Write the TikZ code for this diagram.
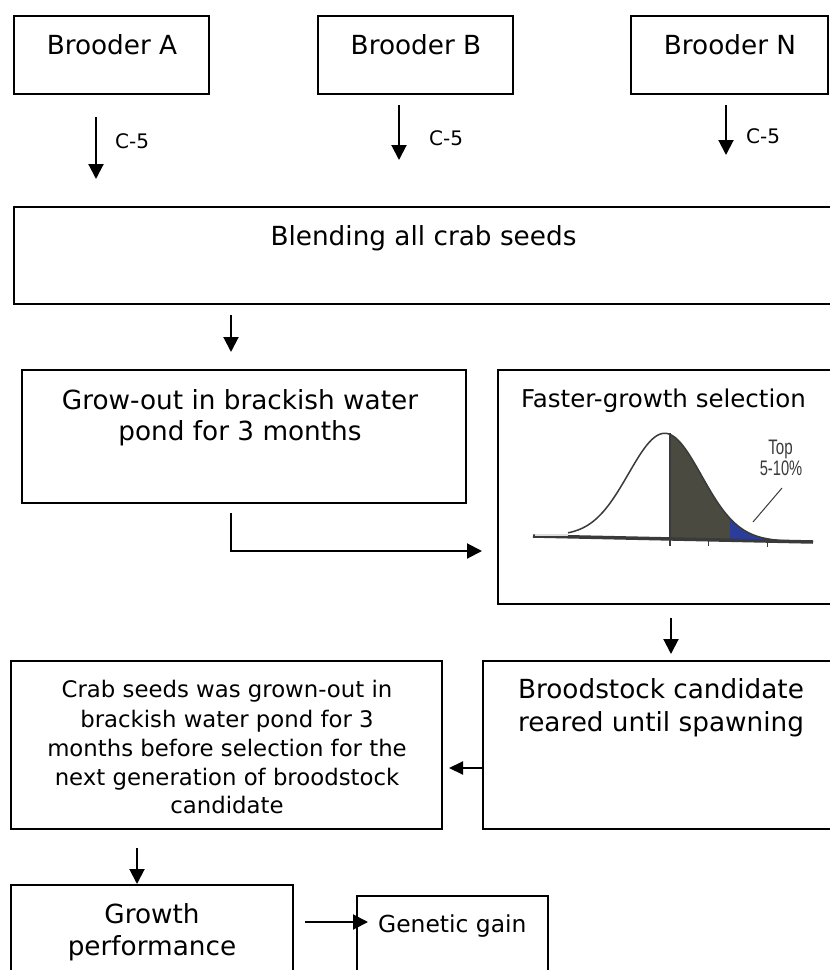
\documentclass[tikz,border=0pt]{standalone}
\usepackage{fontspec}
\setmainfont{DejaVu Sans}
\newfontfamily\narrowfam{Liberation Sans}
\usetikzlibrary{arrows.meta}
\definecolor{darkfill}{HTML}{4A4A40}
\definecolor{bluefill}{HTML}{2B3D9B}
\definecolor{curvecol}{HTML}{3A3A3A}
\newcommand\szbrood{\fontsize{26.3}{30}\selectfont}
\newcommand\szlab{\fontsize{20}{24}\selectfont}
\newcommand\szfast{\fontsize{24.5}{29}\selectfont}
\newcommand\szcrab{\fontsize{22.8}{28}\selectfont}
\newcommand\szgen{\fontsize{23.4}{28}\selectfont}
\newcommand\sztop{\fontsize{21}{24}\selectfont}
\begin{document}
\begin{tikzpicture}[x=1pt,y=-1pt,
  box/.style={draw,line width=2pt,inner sep=0pt,outer sep=0pt,anchor=north west},
  txt/.style={inner sep=0pt,anchor=base},
  arr/.style={line width=2pt,-{Triangle[length=15pt,width=15pt]}},
  arrs/.style={line width=2pt,-{Triangle[length=14pt,width=13pt]}},
  declare function={gb(\x)=exp(-0.5*((\x-665)/36.5)^2); bl(\x)=535+0.025*(\x-533);}
]
\useasboundingbox (0,0) rectangle (830,970);
\clip (0,0) rectangle (830,970);
\fill[white] (0,0) rectangle (830,970);

% boxes
\node[box,minimum width=195pt,minimum height=78pt] (bA) at (14,16) {};
\node[box,minimum width=195pt,minimum height=78pt] (bB) at (318,16) {};
\node[box,minimum width=197pt,minimum height=78pt] (bN) at (631,16) {};
\node[box,minimum width=830pt,minimum height=97pt] (blend) at (14,207) {};
\node[box,minimum width=444pt,minimum height=133pt] (grow) at (22,370) {};
\node[box,minimum width=350pt,minimum height=234pt] (fast) at (498,370) {};
\node[box,minimum width=431pt,minimum height=168pt] (crab) at (11,661) {};
\node[box,minimum width=360pt,minimum height=168pt] (brood) at (483,661) {};
\node[box,minimum width=282pt,minimum height=100pt] (growth) at (11,885) {};
\node[box,minimum width=191pt,minimum height=90pt] (gen) at (357,896) {};

% texts
\node[txt,font=\szbrood] (tA) at (112,54) {Brooder A};
\node[txt,font=\szbrood] (tB) at (416,54) {Brooder B};
\node[txt,font=\szbrood] (tN) at (730,54) {Brooder N};
\node[txt,font=\szlab,anchor=base west] (cA) at (115,148) {C-5};
\node[txt,font=\szlab,anchor=base west] (cB) at (429,145) {C-5};
\node[txt,font=\szlab,anchor=base west] (cN) at (746,143) {C-5};
\node[txt,font=\szbrood] (tblend) at (423.5,245) {Blending all crab seeds};
\node[txt,font=\szbrood] (tg1) at (240,409) {Grow-out in brackish water};
\node[txt,font=\szbrood] (tg2) at (240,440) {pond for 3 months};
\node[txt,font=\szfast] (tfast) at (663.5,407) {Faster-growth selection};
\node[txt,font=\szbrood] (tb1) at (661,698) {Broodstock candidate};
\node[txt,font=\szbrood] (tb2) at (661,731) {reared until spawning};
\node[txt,font=\szcrab] (tc1) at (227,697) {Crab seeds was grown-out in};
\node[txt,font=\szcrab] (tc2) at (227,727) {brackish water pond for 3};
\node[txt,font=\szcrab] (tc3) at (227,756) {months before selection for the};
\node[txt,font=\szcrab] (tc4) at (227,785) {next generation of broodstock};
\node[txt,font=\szcrab] (tc5) at (227,813) {candidate};
\node[txt,font=\szbrood] (tgr1) at (152,923) {Growth};
\node[txt,font=\szbrood] (tgr2) at (152,955) {performance};
\node[txt,font=\szgen,anchor=base west] (tgen) at (378,932) {Genetic gain};

% bell curve
\fill[darkfill] plot[domain=670:813,samples=60] (\x,{bl(\x)-105*gb(\x)}) -- (813,{bl(813)}) -- (670,{bl(670)}) -- cycle;
\fill[bluefill] plot[domain=730:772,samples=30] (\x,{bl(\x)-105*gb(\x)}) -- (772,{bl(772)}) -- (730,{bl(730)}) -- cycle;
\draw[curvecol,line width=1.5pt] plot[domain=568:813,samples=100] (\x,{bl(\x)-105*gb(\x)});
\draw[curvecol,line width=3.5pt] (533,536) -- (813,542);
\fill[gray!25] (535,534.2) rectangle (568,536.2);
\draw[curvecol,line width=2pt] (670,433) -- (670,546);
\draw[curvecol,line width=1pt] (708,540) -- (708,546);
\draw[curvecol,line width=1pt] (767,541) -- (767,547);
\coordinate (p1) at (782,488);
\coordinate (p2) at (753,522);
\draw[curvecol,line width=1pt] (p1) -- (p2);
\node[txt,font=\narrowfam\sztop,text=curvecol] (ttop) at (780.5,454) {\scalebox{0.72}[1]{Top}};
\node[txt,font=\narrowfam\sztop,text=curvecol] (tpct) at (781,475) {\scalebox{0.7}[1]{5-10\%}};

% connectors
\coordinate (aS) at (96,117);  \coordinate (aE) at (96,179);
\coordinate (bS) at (399,105); \coordinate (bE) at (399,160);
\coordinate (nS) at (726,105); \coordinate (nE) at (726,155);
\draw[arr] (aS) -- (aE);
\draw[arr] (bS) -- (bE);
\draw[arr] (nS) -- (nE);
\coordinate (blS) at (231,315); \coordinate (blE) at (231,352);
\draw[arr] (blS) -- (blE);
\coordinate (gS) at (231,513); \coordinate (gE) at (482,551);
\draw[arr] (gS) |- (gE);
\coordinate (fS) at (671,618); \coordinate (fE) at (671,654);
\draw[arr] (fS) -- (fE);
\coordinate (brE) at (449,768);
\draw[arrs] (brood.west |- brE) -- (brE);
\coordinate (cS) at (137,848); \coordinate (cE) at (137,884);
\draw[arr] (cS) -- (cE);
\coordinate (grS) at (305,922); \coordinate (grE) at (368,922);
\draw[arr] (grS) -- (grE);
\end{tikzpicture}
\end{document}
